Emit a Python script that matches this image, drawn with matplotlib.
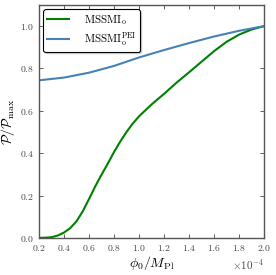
import numpy as np
import matplotlib
matplotlib.use('Agg')
import matplotlib.pyplot as plt

plt.rcParams['font.family'] = 'serif'
plt.rcParams['font.serif'] = ['cmr10', 'DejaVu Serif']
plt.rcParams['mathtext.fontset'] = 'cm'
plt.rcParams['axes.formatter.use_mathtext'] = True
plt.rcParams['axes.unicode_minus'] = False

# phi_0 / M_Pl in units of 1e-4
phi_o = [0.2, 0.25, 0.3, 0.35, 0.4, 0.45, 0.5, 0.55, 0.6, 0.65, 0.7, 0.75,
         0.8, 0.85, 0.9, 0.95, 1.0, 1.1, 1.2, 1.3, 1.4, 1.5, 1.6, 1.7,
         1.8, 1.9, 2.0]
p_mssmi = [0.0, 0.001, 0.003, 0.011, 0.025, 0.046, 0.078, 0.125, 0.183,
           0.243, 0.298, 0.35, 0.405, 0.455, 0.50, 0.54, 0.574, 0.63, 0.68,
           0.733, 0.782, 0.832, 0.882, 0.926, 0.96, 0.984, 1.0]

phi_pei = [0.2, 0.4, 0.6, 0.8, 1.0, 1.2, 1.4, 1.6, 1.8, 2.0]
p_pei = [0.744, 0.757, 0.78, 0.812, 0.852, 0.887, 0.92, 0.951, 0.978, 1.0]

fig = plt.figure(figsize=(2.76, 2.75), dpi=100)
ax = fig.add_axes([0.141, 0.135, 0.816, 0.847])

ax.plot(np.array(phi_o) * 1e-4, p_mssmi, color='#008000', lw=1.5,
        label=r'$\rm MSSMI_o$')
ax.plot(np.array(phi_pei) * 1e-4, p_pei, color='#4682b4', lw=1.5,
        label=r'$\rm MSSMI_o^{PEI}$')

ax.set_xlim(0.2e-4, 2.0e-4)
ax.set_ylim(0, 1.1)
ax.set_xticks(np.arange(0.2, 2.01, 0.2) * 1e-4)
ax.set_yticks([0.0, 0.2, 0.4, 0.6, 0.8, 1.0])
ax.ticklabel_format(axis='x', style='sci', scilimits=(0, 0))
ax.tick_params(direction='in', top=True, right=True, labelsize=7,
               colors='#444444', length=3, width=0.6)
ax.xaxis.get_offset_text().set_fontsize(8)
for s in ax.spines.values():
    s.set_color('#555555')
    s.set_linewidth(1.0)

ax.set_xlabel(r'$\phi_0/M_{\rm Pl}$', fontsize=10, labelpad=1)
ax.set_ylabel(r'$\mathcal{P}/\mathcal{P}_{\rm max}$', fontsize=10, labelpad=2)

leg = ax.legend(loc='upper left', fontsize=8, fancybox=True, framealpha=1,
                edgecolor='black', handlelength=2.0, handletextpad=1.3,
                borderaxespad=0.4, borderpad=0.35, labelspacing=0.3,
                shadow={'ox': 1.2, 'oy': -1.2, 'shade': 0.3})
leg.get_frame().set_linewidth(0.8)

fig.savefig('out.png', dpi=100)
